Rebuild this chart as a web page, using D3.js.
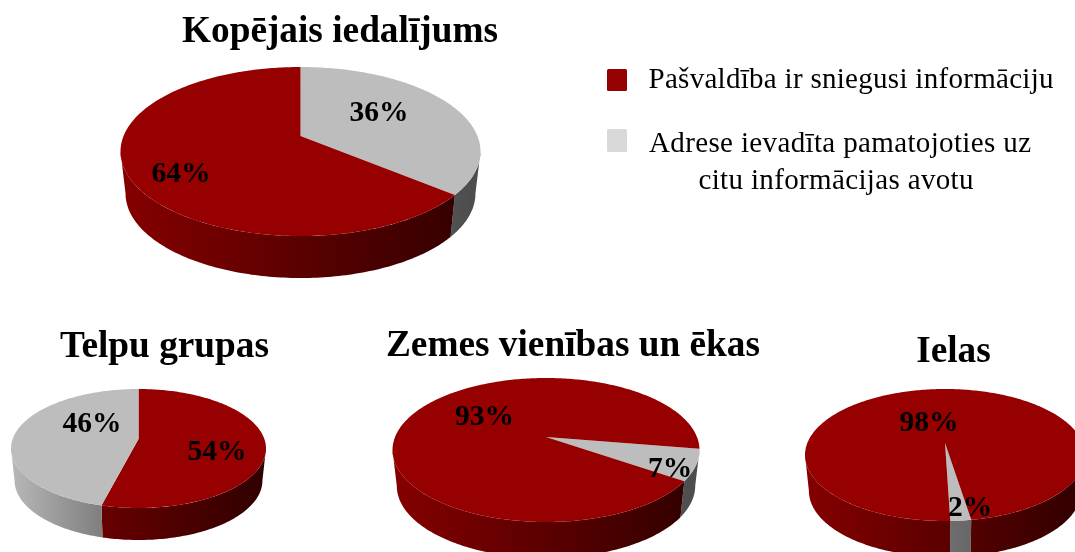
<!DOCTYPE html>
<html>
<head>
<meta charset="utf-8">
<script src="https://cdn.jsdelivr.net/npm/d3@7"></script>
<style>
html, body { margin: 0; padding: 0; background: #fff; overflow: hidden; }
svg { display: block; filter: blur(0.4px); }
text { font-family: "Liberation Serif", serif; fill: #000; }
</style>
</head>
<body>
<div id="chart-area"></div>
<script>
// values, percent per pie
const pieTitles = ["Kopējais iedalījums", "Telpu grupas", "Zemes vienības un ēkas", "Ielas"];
const seriesNames = ["Pašvaldība ir sniegusi informāciju", "Adrese ievadīta pamatojoties uz"];
const legendExtra = "citu informācijas avotu";
const municipality = [64, 54, 93, 98];
const otherSource = [36, 46, 7, 2];

// which slice comes first, and where it starts (degrees clockwise from the back of the pie)
const firstSlice = ["other", "mun", "other", "other"];
const startDeg = [0, 0, 99.5, 171];

// layout of each pie: apex, half width, height above/below apex, wall depth
const layout = [
  { ax: 300.5, ay: 136, rx: 180, up: 69, down: 100, depth: 42, titleX: 340, titleY: 42, mun: [181, 182], oth: [379, 121] },
  { ax: 138.5, ay: 439, rx: 127.5, up: 50, down: 69, depth: 32, titleX: 164.5, titleY: 357, mun: [217, 460], oth: [92, 432] },
  { ax: 546, ay: 437, rx: 153.5, up: 59, down: 85, depth: 36, titleX: 573, titleY: 356, mun: [484.5, 425], oth: [670, 477] },
  { ax: 945, ay: 443, rx: 140, up: 54, down: 78, depth: 36, titleX: 953.5, titleY: 362, mun: [929, 431], oth: [970, 516] }
];

const colors = { mun: "#960000", other: "#bdbdbd" };
const wallStops = {
  mun: [[0, "#850000"], [1, "#300000"]],
  other: [[0, "#b8b8b8"], [0.35, "#808080"], [0.5, "#6e6e6e"], [1, "#4c4c4c"]]
};

const width = 1075;
const height = 552;

const svg = d3.select("#chart-area")
  .append("svg")
    .attr("width", width)
    .attr("height", height);

const defs = svg.append("defs");
const line = d3.line();
const rad = d => d * Math.PI / 180;

function drawPie(i) {
  const l = layout[i];
  const k = (l.down - l.up) / (l.down + l.up);
  const ry = l.up * (1 + k);
  const rx = l.rx * Math.sqrt(1 - k * k);

  // circle angle -> screen point, simple perspective. t scales the lower rim
  const project = (a, t = 1, dy = 0) => {
    const x = Math.sin(a), z = -Math.cos(a);
    const s = 1 / (1 - k * z);
    return [l.ax + rx * x * s * t, l.ay + ry * z * s + dy];
  };

  const rows = firstSlice[i] === "mun"
    ? [{ key: "mun", value: municipality[i] }, { key: "other", value: otherSource[i] }]
    : [{ key: "other", value: otherSource[i] }, { key: "mun", value: municipality[i] }];

  const arcs = d3.pie()
    .value(d => d.value)
    .sort(null)
    .startAngle(rad(startDeg[i]))
    .endAngle(rad(startDeg[i]) + 2 * Math.PI)(rows);

  const g = svg.append("g");

  Object.keys(wallStops).forEach(key => {
    const grad = defs.append("linearGradient")
      .attr("id", `wall-${key}-${i}`)
      .attr("gradientUnits", "userSpaceOnUse")
      .attr("x1", l.ax - l.rx).attr("x2", l.ax + l.rx)
      .attr("y1", 0).attr("y2", 0);
    wallStops[key].forEach(s => {
      grad.append("stop").attr("offset", s[0]).attr("stop-color", s[1]);
    });
  });

  const samples = (a0, a1) => {
    const n = Math.max(2, Math.ceil((a1 - a0) / rad(1)));
    return d3.range(n + 1).map(j => a0 + (a1 - a0) * j / n);
  };

  // side walls, only the part facing the viewer (widest point to widest point)
  const wide = Math.acos(-k);
  const front = [wide, 2 * Math.PI - wide];
  arcs.forEach(d => {
    [0, -2 * Math.PI].forEach(shift => {
      const a0 = Math.max(d.startAngle + shift, front[0]);
      const a1 = Math.min(d.endAngle + shift, front[1]);
      if (a1 <= a0) return;
      const as = samples(a0, a1);
      const top = as.map(a => project(a));
      const bottom = as.slice().reverse().map(a => project(a, 0.972, l.depth));
      g.append("path")
        .attr("d", line(top.concat(bottom)) + "Z")
        .attr("fill", `url(#wall-${d.data.key}-${i})`);
    });
  });

  // top face
  arcs.forEach(d => {
    const pts = samples(d.startAngle, d.endAngle).map(a => project(a));
    g.append("path")
      .attr("d", line([[l.ax, l.ay]].concat(pts)) + "Z")
      .attr("fill", colors[d.data.key]);
  });

  svg.append("text")
    .attr("x", l.titleX).attr("y", l.titleY)
    .attr("text-anchor", "middle")
    .attr("font-size", 37.3)
    .attr("font-weight", "bold")
    .text(pieTitles[i]);

  [["mun", municipality[i]], ["oth", otherSource[i]]].forEach(([key, v]) => {
    svg.append("text")
      .attr("x", l[key][0]).attr("y", l[key][1])
      .attr("text-anchor", "middle")
      .attr("font-size", 29.5)
      .attr("font-weight", "bold")
      .text(v + "%");
  });
}

d3.range(pieTitles.length).forEach(drawPie);

// legend
const legend = svg.append("g");
legend.append("rect").attr("x", 607).attr("y", 69).attr("width", 20).attr("height", 22).attr("rx", 1.5).attr("fill", "#960000");
legend.append("rect").attr("x", 607).attr("y", 129).attr("width", 20).attr("height", 23).attr("rx", 1.5).attr("fill", "#d9d9d9");
legend.append("text").attr("x", 851).attr("y", 88).attr("text-anchor", "middle").attr("font-size", 29).attr("textLength", 405).text(seriesNames[0]);
legend.append("text").attr("x", 840).attr("y", 152).attr("text-anchor", "middle").attr("font-size", 29).attr("textLength", 382).text(seriesNames[1]);
legend.append("text").attr("x", 836).attr("y", 189).attr("text-anchor", "middle").attr("font-size", 29).attr("textLength", 275).text(legendExtra);
</script>
</body>
</html>
